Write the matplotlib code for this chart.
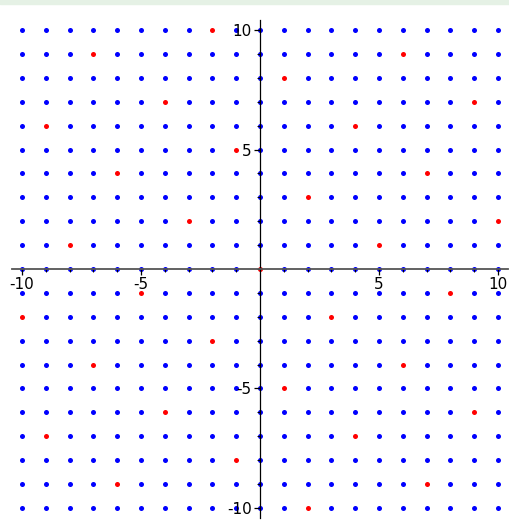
import matplotlib
matplotlib.use("Agg")
import matplotlib.pyplot as plt
from matplotlib.patches import Rectangle
from matplotlib.ticker import MultipleLocator, FixedLocator

plt.rcParams['axes.unicode_minus'] = False

# lattice of integer points
grid_x = list(range(-10, 11))
grid_y = list(range(-10, 11))

# highlighted points
red_x = [-2, -7, 6, 1, -4, 9, -9, 4, -1, -6, 7, 2, -3, 10, -8, 5, 0,
         -5, 8, -10, 3, -2, -7, 6, 1, -4, 9, -9, 4, -1, -6, 7, 2]
red_y = [10, 9, 9, 8, 7, 7, 6, 6, 5, 4, 4, 3, 2, 2, 1, 1, 0,
         -1, -1, -2, -2, -3, -4, -4, -5, -6, -6, -7, -7, -8, -9, -9, -10]

major_ticks = [-10, -5, 5, 10]

W, H = 510, 532
fig = plt.figure(figsize=(W / 100, H / 100), dpi=100)
fig.patches.append(Rectangle((0, 1 - 4 / H), 1, 4 / H, transform=fig.transFigure,
                             color='#e5f1e5', zorder=0))

ax = fig.add_axes([12 / W, 14 / H, 496 / W, 498 / H])
ax.set_xlim(-10.42, 10.42)
ax.set_ylim(-10.42, 10.42)

red_set = set(zip(red_x, red_y))
bx = [x for x in grid_x for y in grid_y if (x, y) not in red_set]
by = [y for x in grid_x for y in grid_y if (x, y) not in red_set]
ax.scatter(bx, by, s=13, color='blue', linewidths=0, zorder=1)
ax.scatter(red_x, red_y, s=13, color='red', linewidths=0, zorder=1)

for s in ['top', 'right']:
    ax.spines[s].set_visible(False)
for s in ['left', 'bottom']:
    ax.spines[s].set_position('zero')
ax.spines['left'].set_color('black')
ax.spines['left'].set_linewidth(0.9)
ax.spines['bottom'].set_color('#555555')
ax.spines['bottom'].set_linewidth(1.3)

ax.xaxis.set_major_locator(FixedLocator(major_ticks))
ax.yaxis.set_major_locator(FixedLocator(major_ticks))
ax.xaxis.set_minor_locator(MultipleLocator(1))
ax.yaxis.set_minor_locator(MultipleLocator(1))
ax.tick_params(which='major', length=4, width=0.9, labelsize=11, pad=2, direction='out')
ax.tick_params(which='minor', length=2, width=0.7, direction='out')

fig.savefig('out.png', dpi=100)
